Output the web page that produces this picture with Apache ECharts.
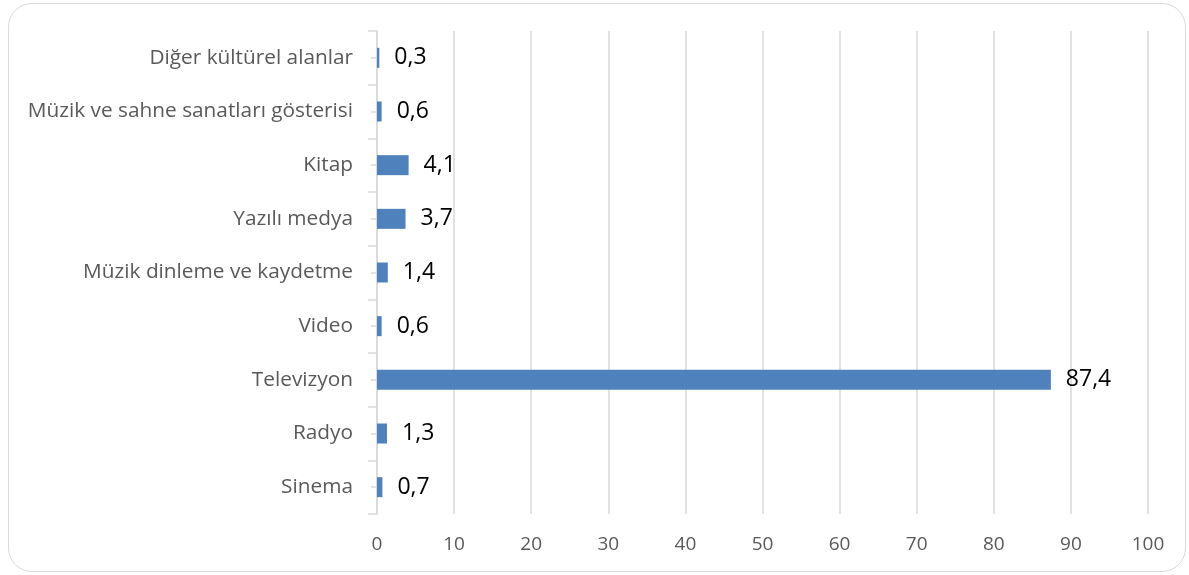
<!DOCTYPE html>
<html><head><meta charset="utf-8">
<script src="https://cdn.jsdelivr.net/npm/echarts@6/dist/echarts.min.js"></script>
<style>
html,body{margin:0;padding:0;background:#fff;}
#frame{position:absolute;left:8px;top:3px;width:1178px;height:569px;border:1.5px solid #d9d9d9;border-radius:24px;box-sizing:border-box;}
#c{position:absolute;left:0;top:0;width:1189px;height:575px;}
</style></head>
<body>
<div id="frame"></div>
<div id="c"></div>
<script>
const categories = ["Sinema","Radyo","Televizyon","Video","Müzik dinleme ve kaydetme","Yazılı medya","Kitap","Müzik ve sahne sanatları gösterisi","Diğer kültürel alanlar"];
const values = [0.7,1.3,87.4,0.6,1.4,3.7,4.1,0.6,0.3];
const xTicks = {min:0,max:100,interval:10};
const font = "'Open Sans', sans-serif";
const chart = echarts.init(document.getElementById('c'));
chart.setOption({
  animation:false,
  grid:{left:377,right:41,top:31,bottom:61,containLabel:false},
  xAxis:{type:'value',min:xTicks.min,max:xTicks.max,interval:xTicks.interval,
    axisLine:{show:false},axisTick:{show:false},
    splitLine:{lineStyle:{color:'#d9d9d9',width:1.5}},
    axisLabel:{color:'#595959',fontSize:19,fontFamily:font,margin:21}},
  yAxis:[{type:'category',data:categories,
    axisLine:{lineStyle:{color:'#d9d9d9',width:1.5}},
    axisTick:{show:true,length:9,lineStyle:{color:'#d9d9d9',width:1.5}},
    axisLabel:{color:'#595959',fontSize:20.8,fontFamily:font,margin:24}},
    {type:'category',data:categories,position:'left',
    axisLine:{show:false},
    axisTick:{show:true,alignWithLabel:true,length:6,lineStyle:{color:'#d9d9d9',width:1.5}},
    axisLabel:{show:false}}],
  series:[{type:'bar',data:values,barWidth:20,itemStyle:{color:'#4f81bd'},
    label:{show:true,position:'right',distance:15,color:'#000',fontSize:23,fontFamily:font,
      formatter:p=>String(p.value).replace('.',',')}}]
});
</script>
</body></html>
